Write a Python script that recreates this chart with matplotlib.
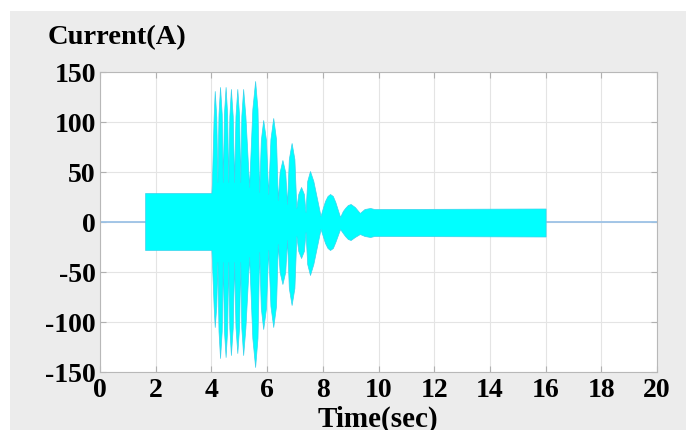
import matplotlib.pyplot as plt
from matplotlib.patches import Rectangle

# envelope of the phase current (A) against time (s):
# steady block, then the beating lobes with their shoulders and dips, then the new steady state
t_env = [1.62, 1.62, 4.00, 4.02, 4.08, 4.12, 4.175, 4.215,
         4.255, 4.31, 4.37, 4.41, 4.45, 4.51, 4.565, 4.605,
         4.645, 4.70, 4.765, 4.815, 4.865, 4.93, 4.995, 5.035,
         5.075, 5.14, 5.22, 5.355, 5.47, 5.57, 5.655, 5.715,
         5.775, 5.86, 5.96, 6.04, 6.12, 6.22, 6.32, 6.385,
         6.45, 6.55, 6.65, 6.715, 6.78, 6.88, 6.98, 7.05,
         7.12, 7.22, 7.32, 7.38, 7.44, 7.54, 7.66, 7.92,
         8.00, 8.08, 8.17, 8.26, 8.36, 8.45, 8.62, 8.72,
         8.80, 8.90, 9.00, 9.15, 9.33, 9.50, 9.70, 9.85,
         10.00, 16.00, 16.00]
i_upper = [0, 29, 29, 40, 105, 131, 105, 40,
           108, 135, 108, 40, 108, 135, 108, 40,
           106, 133, 106, 40, 106, 133, 106, 40,
           106, 133, 106, 35, 113, 141, 113, 30,
           82, 102, 82, 28, 83, 104, 83, 22,
           50, 62, 50, 18, 63, 79, 63, 14,
           28, 35, 28, 10, 41, 51, 41, 6,
           14, 21, 26, 28, 26, 20, 5, 11,
           14, 17, 18, 15, 9, 13, 14, 13,
           13, 13.5, 0]
i_lower = [0, -28, -28, -40, -84, -105, -84, -40,
           -109, -136, -109, -40, -108, -135, -108, -40,
           -106, -133, -106, -40, -105, -131, -105, -40,
           -106, -133, -106, -35, -116, -145, -116, -30,
           -86, -107, -86, -28, -84, -105, -84, -22,
           -50, -62, -50, -18, -66, -83, -66, -14,
           -29, -36, -29, -10, -42, -53, -42, -7,
           -14, -21, -26, -28, -26, -20, -7, -11,
           -14, -17, -18, -15, -12, -14, -15, -14,
           -14, -14.5, 0]

xticks = list(range(0, 21, 2))
yticks = [-150, -100, -50, 0, 50, 100, 150]

font = {'family': 'Liberation Serif', 'weight': 'bold'}

fig = plt.figure(figsize=(6.86, 4.30), dpi=100, facecolor='white')
fig.patches.append(Rectangle((10 / 686, 0), 1, 1 - 11 / 430, transform=fig.transFigure,
                             facecolor='#ececec', edgecolor='none', zorder=-10))

ax = fig.add_axes([100 / 686, 58 / 430, 557 / 686, 300 / 430])
ax.set_facecolor('white')

ax.plot([0, 20], [0, 0], color='#9cc2e6', lw=1.3, zorder=2)
ax.fill_between(t_env, i_lower, i_upper, facecolor='#00ffff', edgecolor='#3ad2ec',
                lw=0.5, zorder=3)

ax.set_xlim(0, 20)
ax.set_ylim(-150, 150)
ax.set_xticks(xticks)
ax.set_yticks(yticks)
ax.set_xticklabels([str(v) for v in xticks], fontdict=font, fontsize=20)
ax.set_yticklabels([str(v) for v in yticks], fontdict=font, fontsize=20)
ax.tick_params(direction='in', length=4, width=0.8, color='#b0b0b0',
               top=True, right=True)
ax.tick_params(axis='x', pad=4)
ax.tick_params(axis='y', pad=3)
ax.grid(True, color='#e4e4e4', lw=0.8)
ax.set_axisbelow(True)
for s in ax.spines.values():
    s.set_color('#b8b8b8')
    s.set_linewidth(0.8)

fig.text(378 / 686, 1 - 406 / 430, 'Time(sec)', fontdict=font, fontsize=21,
         ha='center', va='top')
fig.text(48 / 686, 1 - 44 / 430, 'Current(A)', fontdict=font, fontsize=20.5)

fig.savefig('out.png', dpi=100)
